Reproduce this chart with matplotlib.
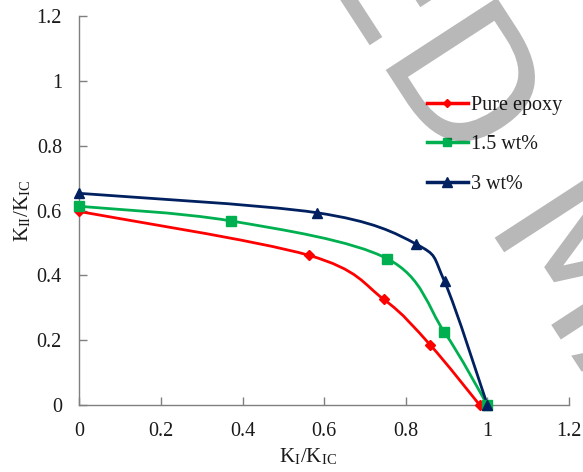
import numpy as np
import matplotlib
matplotlib.use("Agg")
import matplotlib.pyplot as plt
from matplotlib.path import Path
from matplotlib.patches import PathPatch
from matplotlib.lines import Line2D
from matplotlib.textpath import TextPath
from matplotlib.font_manager import FontProperties
from matplotlib.transforms import Affine2D, IdentityTransform

plt.rcParams['font.family'] = ['Liberation Serif', 'DejaVu Serif']
plt.rcParams['mathtext.fontset'] = 'stix'

# ---- data ----
series_names = ["Pure epoxy", "1.5 wt%", "3 wt%"]
x_pure = [0.0, 0.562, 0.746, 0.860, 0.981]
y_pure = [0.597, 0.462, 0.326, 0.185, 0.0]
x_15 = [0.0, 0.371, 0.755, 0.894, 1.0]
y_15 = [0.613, 0.568, 0.451, 0.226, 0.0]
x_3 = [0.0, 0.583, 0.826, 0.895, 1.0]
y_3 = [0.653, 0.593, 0.496, 0.381, 0.0]
x_ticks = [0, 0.2, 0.4, 0.6, 0.8, 1, 1.2]
y_ticks = [0, 0.2, 0.4, 0.6, 0.8, 1, 1.2]
tick_labels = ["0", "0.2", "0.4", "0.6", "0.8", "1", "1.2"]
watermark_a = "ACCEPTED"
watermark_b = "MANUSCRIPT"

colors = ["#FF0000", "#00B050", "#002060"]
markers = ["D", "s", "^"]
msizes = [5, 7, 7.5]

W, H = 583, 472


def smooth_path(xs, ys):
    """Excel-like smoothed line: cubic Bezier segments (Catmull-Rom controls)."""
    p = np.column_stack([xs, ys]).astype(float)
    n = len(p)
    verts = [p[0]]
    codes = [Path.MOVETO]
    for i in range(n - 1):
        p0 = p[i - 1] if i > 0 else p[i]
        p1 = p[i]
        p2 = p[i + 1]
        p3 = p[i + 2] if i + 2 < n else p[i + 1]
        c1 = p1 + (p2 - p0) / 6.0
        c2 = p2 - (p3 - p1) / 6.0
        verts += [c1, c2, p2]
        codes += [Path.CURVE4] * 3
    return Path(verts, codes)


fig = plt.figure(figsize=(W / 100, H / 100), dpi=100)
ax = fig.add_axes([0.136, 0.142, 0.840, 0.824])

data = [(x_pure, y_pure), (x_15, y_15), (x_3, y_3)]
handles = []
for (xs, ys), c, m, ms, name in zip(data, colors, markers, msizes, series_names):
    patch = PathPatch(smooth_path(xs, ys), facecolor='none', edgecolor=c,
                      lw=2.0, transform=ax.transData, zorder=3, clip_on=False)
    ax.add_patch(patch)
    ax.plot(xs, ys, linestyle='none', marker=m, color=c, ms=ms, zorder=4,
            clip_on=False)
    handles.append(Line2D([0], [0], color=c, lw=2.5, marker=m, ms=ms - 1))

ax.set_xlim(0, 1.2)
ax.set_ylim(0, 1.2)
ax.set_xticks(x_ticks)
ax.set_xticklabels(tick_labels)
ax.set_yticks(y_ticks)
ax.set_yticklabels(tick_labels)
for s in ['top', 'right']:
    ax.spines[s].set_visible(False)
for s in ['left', 'bottom']:
    ax.spines[s].set_color('#7f7f7f')
    ax.spines[s].set_linewidth(1.0)
ax.tick_params(direction='in', length=5.5, width=1.0, color='#7f7f7f',
               labelsize=14.5, pad=12.5, labelcolor='#1a1a1a')

ax.set_xlabel(r'K$_{\mathregular{I}}$/K$_{\mathregular{IC}}$', fontsize=15,
              color='#1a1a1a', va='center')
ax.xaxis.set_label_coords(0.467, -0.134)
ax.set_ylabel(r'K$_{\mathregular{II}}$/K$_{\mathregular{IC}}$', fontsize=15,
              color='#1a1a1a', va='center')
ax.yaxis.set_label_coords(-0.116, 0.5)

leg = ax.legend(handles, series_names, loc='upper left',
                bbox_to_anchor=(0.69, 0.82), frameon=False, fontsize=14.5,
                handlelength=2.0, handletextpad=0.15, labelspacing=1.0,
                borderpad=0)
for t in leg.get_texts():
    t.set_color('#1a1a1a')

# ---- watermark (glyph outlines placed in pixel space) ----
fp = FontProperties(family='DejaVu Sans')
tp_a = TextPath((0, 0), watermark_a, size=1, prop=fp)
tp_d = TextPath((0, 0), watermark_a[-1], size=1, prop=fp)
d_left = tp_a.vertices[:, 0].max() - (tp_d.vertices[:, 0].max() - tp_d.vertices[:, 0].min())
space_w = 0.318
d_right_adv = tp_a.vertices[:, 0].max() + 0.07
tp_b = TextPath((d_right_adv + space_w, 0), watermark_b, size=1, prop=fp)
em_px = 182.0
angle = -57.0
anchor_px = (376.0, H - 55.0)
tr = (Affine2D().translate(-d_left, 0).scale(em_px).rotate_deg(angle)
      .translate(*anchor_px))
for tp in (tp_a, tp_b):
    wm = PathPatch(tp, facecolor='black', edgecolor='none', alpha=0.28,
                   transform=tr + IdentityTransform(), zorder=10)
    fig.add_artist(wm)

fig.savefig("out.png", dpi=100)
